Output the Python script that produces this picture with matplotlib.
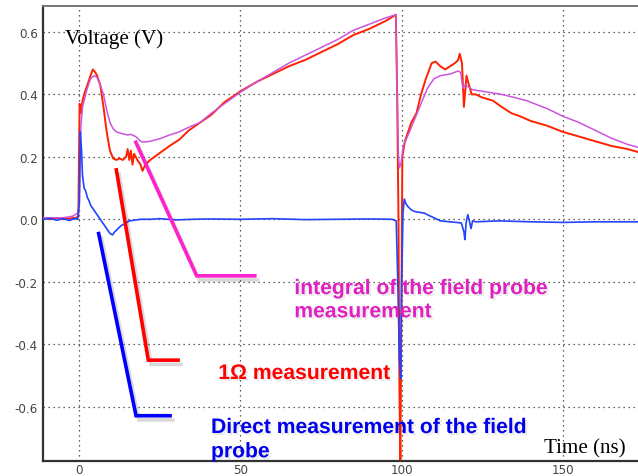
import matplotlib
matplotlib.use("Agg")
import matplotlib.pyplot as plt
import matplotlib.patheffects as pe

# ---------------- data ----------------
red_t = [-11.3, -9, -7, -5, -3, -1, -0.3, 0.1, 0.5, 1.0, 1.5, 2.5, 3.5, 4.2, 5.0, 5.5,
         6.5, 7.5, 8.5, 9.5, 10.5, 11.5, 12.5, 13.5, 14.5, 15.0, 15.5, 16.0, 16.5, 17.0,
         18.0, 19.0, 19.6, 20.5, 22, 24, 26, 28, 31, 34, 37.5, 41, 45, 50, 55, 60, 65,
         70, 75, 80, 85, 90, 95, 98.2, 98.6, 99.0, 99.3, 99.6, 99.9, 100.2, 101, 102,
         103, 104.6, 106, 107.5, 109.3, 110.5, 112, 113.5, 115, 116.5, 117.5, 118.0,
         118.7, 119.3, 119.8, 120.1, 120.6, 121.7, 123, 125, 128.3, 131, 134, 136.7,
         140, 145, 150, 155, 160, 165, 170, 173.5]
red_v = [0.005, 0.0, 0.004, 0.0, 0.003, 0.005, 0.01, 0.37, 0.34, 0.38, 0.40, 0.43, 0.46,
         0.48, 0.47, 0.46, 0.43, 0.36, 0.28, 0.22, 0.195, 0.19, 0.195, 0.19, 0.20, 0.225,
         0.19, 0.22, 0.175, 0.21, 0.19, 0.175, 0.155, 0.175, 0.19, 0.205, 0.22, 0.235,
         0.255, 0.285, 0.31, 0.335, 0.375, 0.41, 0.44, 0.465, 0.49, 0.51, 0.535, 0.56,
         0.59, 0.61, 0.635, 0.655, 0.40, 0.0, -0.55, -0.77, -0.30, 0.20, 0.25, 0.28,
         0.31, 0.34, 0.40, 0.45, 0.50, 0.505, 0.49, 0.48, 0.49, 0.50, 0.51, 0.53, 0.50,
         0.36, 0.42, 0.46, 0.44, 0.40, 0.40, 0.39, 0.38, 0.36, 0.34, 0.33, 0.315, 0.30,
         0.28, 0.265, 0.25, 0.235, 0.225, 0.215]

mag_t = [-11.3, -5, -2, -0.5, 0.0, 0.5, 1.0, 1.5, 2.5, 3.5, 4.5, 5.5, 6.5, 7.5, 8.5,
         9.5, 10.5, 11.5, 13, 15, 16, 17.5, 19, 20, 22, 25, 28, 31, 34, 37.5, 41, 45,
         50, 55, 60, 65, 70, 75, 80, 85, 90, 95, 98.2, 98.6, 99.0, 99.3, 99.8, 100.5,
         102, 104, 106, 108, 110, 112, 115, 117.5, 118.3, 119.0, 119.6, 120.5, 122, 125,
         131, 135, 138.7, 145, 150, 155, 160, 165, 170, 173.5]
mag_v = [0.005, 0.005, 0.01, 0.02, 0.05, 0.30, 0.36, 0.38, 0.42, 0.45, 0.46, 0.455,
         0.43, 0.40, 0.35, 0.31, 0.29, 0.28, 0.275, 0.27, 0.272, 0.265, 0.25, 0.247,
         0.25, 0.258, 0.27, 0.28, 0.295, 0.31, 0.34, 0.37, 0.407, 0.44, 0.47, 0.50,
         0.525, 0.55, 0.575, 0.605, 0.625, 0.645, 0.655, 0.40, 0.20, 0.165, 0.18, 0.235,
         0.27, 0.32, 0.37, 0.42, 0.45, 0.46, 0.465, 0.475, 0.47, 0.42, 0.43, 0.425,
         0.415, 0.41, 0.40, 0.39, 0.38, 0.355, 0.33, 0.31, 0.285, 0.26, 0.24, 0.23]

blue_t = [-11.3, -9, -7, -5, -3, -1.5, -0.5, 0.0, 0.3, 0.7, 1.0, 1.5, 2.0, 2.5, 3.0,
          3.5, 4.5, 5.5, 6.5, 7.5, 8.5, 9.5, 10.3, 11, 12, 13, 14, 15.5, 17, 19, 22,
          25, 30, 35, 40, 50, 60, 70, 80, 90, 97, 98.3, 98.8, 99.3, 99.7, 100.0, 100.4,
          100.8, 101.3, 102, 103, 104, 105.7, 107, 108.5, 110, 112, 115, 117, 118.5,
          119.3, 119.6, 120.0, 120.5, 121.0, 121.5, 122, 123, 130, 140, 150, 160, 173.5]
blue_v = [0.0, 0.003, -0.003, 0.002, -0.004, 0.003, 0.0, 0.05, 0.28, 0.22, 0.14, 0.10,
          0.09, 0.07, 0.06, 0.045, 0.03, 0.015, 0.0, -0.015, -0.03, -0.045, -0.05,
          -0.04, -0.03, -0.02, -0.015, -0.005, -0.003, 0.0, 0.0, 0.002, -0.002, 0.0,
          0.001, 0.0, 0.002, -0.001, 0.0, 0.001, 0.0, -0.005, -0.2, -0.45, -0.51, -0.2,
          0.02, 0.065, 0.05, 0.04, 0.03, 0.025, 0.022, 0.02, 0.012, 0.005, -0.005,
          -0.008, -0.01, -0.012, -0.04, -0.065, -0.01, 0.015, -0.005, -0.03, -0.005,
          -0.008, -0.005, -0.008, -0.01, -0.008, -0.008]

x_ticks = [0, 50, 100, 150]
y_ticks = [-0.6, -0.4, -0.2, 0.0, 0.2, 0.4, 0.6]
y_tick_labels = ["-0.6", "-0.4", "-0.2", "0.0", "0.2", "0.4", "0.6"]

# annotation pointer paths (data coordinates)
mag_ptr_t = [17.3, 36.4, 55.0]
mag_ptr_v = [0.252, -0.181, -0.181]
red_ptr_t = [11.4, 21.4, 31.2]
red_ptr_v = [0.164, -0.451, -0.451]
blue_ptr_t = [5.9, 17.6, 28.7]
blue_ptr_v = [-0.040, -0.629, -0.629]

# ---------------- figure ----------------
fig = plt.figure(figsize=(6.38, 4.77), dpi=100)
ax = fig.add_axes([42.7 / 638, (477 - 461.7) / 477, (638 - 42.7) / 638, (461.7 - 6.7) / 477])

ax.plot(red_t, red_v, color="#ff2200", lw=1.4, zorder=3)
ax.plot(mag_t, mag_v, color="#cc55dd", lw=1.1, zorder=4)
ax.plot(blue_t, blue_v, color="#2244ff", lw=1.2, zorder=5)

shadow = [pe.SimpleLineShadow(offset=(2, -3), shadow_color="black", alpha=0.15), pe.Normal()]
ax.plot(mag_ptr_t, mag_ptr_v, color="#ff22cc", lw=2.6, zorder=6,
        solid_joinstyle="miter", solid_capstyle="butt", path_effects=shadow)
ax.plot(red_ptr_t, red_ptr_v, color="#ff0000", lw=2.6, zorder=6,
        solid_joinstyle="miter", solid_capstyle="butt", path_effects=shadow)
ax.plot(blue_ptr_t, blue_ptr_v, color="#0000ff", lw=2.6, zorder=6,
        solid_joinstyle="miter", solid_capstyle="butt", path_effects=shadow)

ax.set_xlim(-11.35, 173.3)
ax.set_ylim(-0.773, 0.684)
ax.set_xticks(x_ticks)
ax.set_yticks(y_ticks)
ax.set_yticklabels(y_tick_labels)
ax.tick_params(length=0, labelsize=8.6, labelcolor="#444444", pad=3.5)
ax.tick_params(axis="x", pad=2)
ax.grid(True, color="#333333", linestyle=(0, (1, 3)), linewidth=0.9)

for side in ["left", "bottom"]:
    ax.spines[side].set_color("#333333")
    ax.spines[side].set_linewidth(1.6)
ax.spines["top"].set_color("#777777")
ax.spines["top"].set_linewidth(1.4)
ax.spines["right"].set_visible(False)

tshadow = [pe.withSimplePatchShadow(offset=(1.5, -1.5), shadow_rgbFace="black", alpha=0.08)]
sans_bold = dict(family="Liberation Sans", weight="bold", fontsize=15.2)
# va="baseline" on multi-line text aligns the last line's baseline
fig.text(294.3 / 638, 1 - 318.3 / 477, "integral of the field probe\nmeasurement",
         color="#e020c0", va="baseline", ha="left", linespacing=1.28,
         path_effects=tshadow, zorder=7, **sans_bold)
fig.text(218.3 / 638, 1 - 380 / 477, "1\u03a9 measurement",
         color="#ff0000", va="baseline", ha="left", path_effects=tshadow, zorder=7, **sans_bold)
fig.text(211 / 638, 1 - 458.3 / 477, "Direct measurement of the field\nprobe",
         color="#0000ee", va="baseline", ha="left", linespacing=1.35,
         path_effects=tshadow, zorder=7, **sans_bold)

fig.text(65 / 638, 1 - 44.3 / 477, "Voltage (V)", family="Liberation Serif",
         fontsize=15.1, color="black", va="baseline", ha="left")
fig.text(544 / 638, 1 - 453.3 / 477, "Time (ns)", family="Liberation Serif",
         fontsize=15.1, color="black", va="baseline", ha="left")

fig.savefig("out.png", dpi=100)
